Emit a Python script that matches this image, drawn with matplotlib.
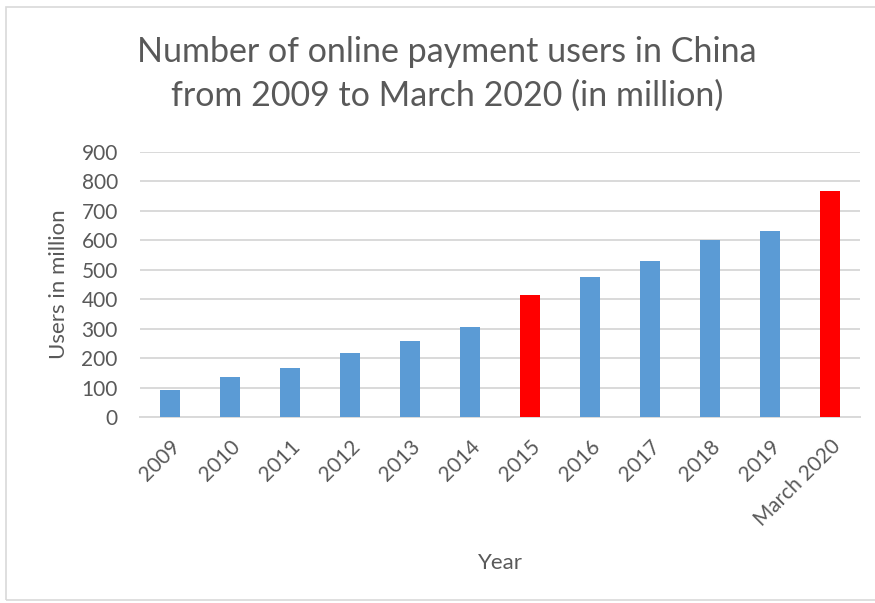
import matplotlib
import matplotlib.pyplot as plt
from matplotlib.patches import Rectangle

font = {'family': 'Lato', 'size': 15}
matplotlib.rc('font', **font)

years = ['2009', '2010', '2011', '2012', '2013', '2014', '2015',
         '2016', '2017', '2018', '2019', 'March 2020']
users = [92, 136, 165, 219, 259, 304, 416, 475, 531, 600, 633, 768]
highlight = ['2015', 'March 2020']

blue = '#5b9bd5'
red = '#ff0000'
grey = '#595959'

fig = plt.figure(figsize=(8.75, 6.03), dpi=100)
# outer chart frame
fig.patches.append(Rectangle((6/875, 3/603), 1.1, 1 - 10/603, transform=fig.transFigure,
                             fill=False, edgecolor='#d9d9d9', linewidth=1.2))

ax = fig.add_axes([140/875, 1 - 417/603, 720/875, 265/603])
colors = [red if y in highlight else blue for y in years]
ax.bar(range(len(years)), users, width=0.32, color=colors, zorder=3)

ax.set_xlim(-0.5, len(years) - 0.5)
ax.set_ylim(0, 900)
ax.set_yticks(range(0, 901, 100))
ax.grid(axis='y', color='#d9d9d9', linewidth=1.4, zorder=0)
for s in ['top', 'right', 'left']:
    ax.spines[s].set_visible(False)
ax.spines['bottom'].set_color('#d9d9d9')
ax.spines['bottom'].set_linewidth(1.4)
ax.tick_params(length=0, colors=grey, labelsize=15)
ax.tick_params(axis='y', pad=16)
ax.tick_params(axis='x', pad=14)
ax.set_xticks(range(len(years)))
ax.set_xticklabels(years, rotation=45, ha='right', rotation_mode='anchor')

ax.set_ylabel('Users in million', color=grey, fontsize=16, labelpad=9)
ax.set_xlabel('Year', color=grey, fontsize=16, labelpad=16)

fig.text(447/875, 1 - 74/603, 'Number of online payment users in China\nfrom 2009 to March 2020 (in million)',
         ha='center', va='center', color=grey, fontsize=24.5, linespacing=1.42)

fig.savefig('out.png', dpi=100)
